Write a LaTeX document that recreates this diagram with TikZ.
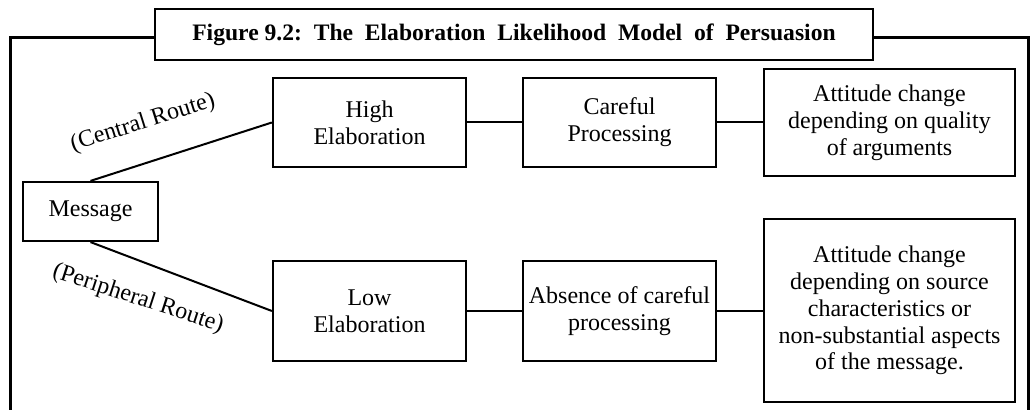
\documentclass[tikz,border=0pt]{standalone}
\usepackage{fontspec}
\setmainfont{Liberation Serif}
\begin{document}
\begin{tikzpicture}[x=0.5pt,y=-0.5pt,
  box/.style={draw, line width=1.1pt, align=center, inner sep=2pt,
    font=\fontsize{12}{13.4}\selectfont},
  link/.style={line width=1pt},
  frame/.style={line width=1.5pt},
  route/.style={inner sep=1pt, font=\fontsize{12}{13.4}\selectfont}]
\useasboundingbox (0,0) rectangle (1036,410);

% title banner and outer frame
\node[draw, line width=1.2pt, minimum width=359pt, minimum height=25.5pt,
  font=\bfseries\fontsize{11.8}{12}\selectfont] (title) at (514,34.5)
  {Figure 9.2:\ \ The\ \ Elaboration\ \ Likelihood\ \ Model\ \ of\ \ Persuasion};
\coordinate (fl) at (10,410);
\coordinate (fr) at (1028,410);
\draw[frame] (title.west |- 0,38) -| (fl);
\draw[frame] (title.east |- 0,38) -| (fr);

% central route row
\node[box, minimum width=96.5pt, minimum height=44.5pt] (high) at (369.5,122.5) {High\\Elaboration};
\node[box, minimum width=96.5pt, minimum height=44.5pt] (careful) at (619.5,122.5) {Careful\\Processing};
\node[box, minimum width=125.5pt, minimum height=53.5pt] (att1) at (889.5,122.5)
  {Attitude change\\depending on quality\\of arguments};

% message
\node[box, minimum width=67.5pt, minimum height=29.5pt] (msg) at (90.5,211.5) {Message};

% peripheral route row
\node[box, minimum width=96.5pt, minimum height=50pt] (low) at (369.5,311) {Low\\Elaboration};
\node[box, minimum width=96.5pt, minimum height=50pt] (absence) at (619.5,311) {Absence of careful\\processing};
\node[box, minimum width=125.5pt, minimum height=91.5pt] (att2) at (889.5,310.5)
  {Attitude change\\depending on source\\characteristics or\\non-substantial aspects\\of the message.};

% connectors
\draw[link] (msg.north) -- (high.west);
\draw[link] (msg.south) -- (low.west);
\draw[link] (high) -- (careful);
\draw[link] (careful) -- (att1);
\draw[link] (low) -- (absence);
\draw[link] (absence) -- (att2.west |- absence);

% route labels
\node[route, rotate=17.5] (central) at (143,123) {(Central Route)};
\node[route, rotate=-18] (peripheral) at (138,299) {(Peripheral Route)};
\end{tikzpicture}
\end{document}
